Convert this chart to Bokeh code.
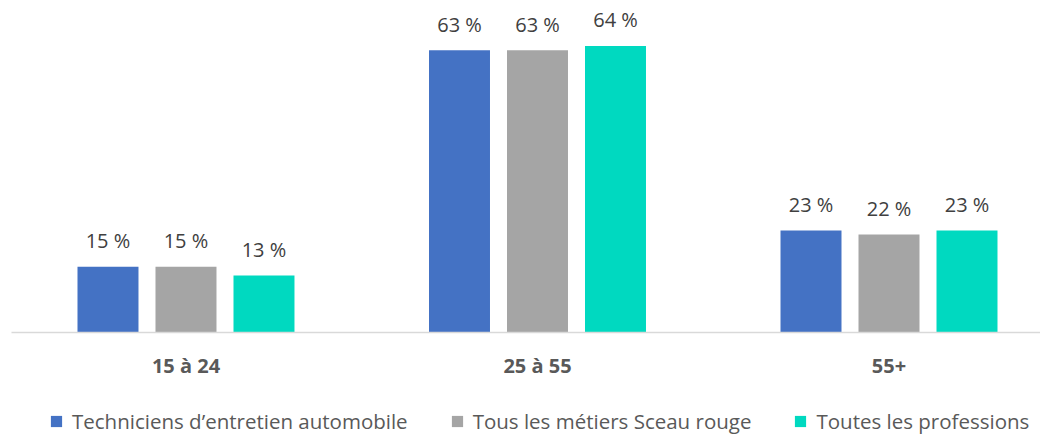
from bokeh.plotting import figure
from bokeh.layouts import column
from bokeh.models import ColumnDataSource, Range1d, FixedTicker, Legend, LegendItem
from bokeh.core.properties import value
from bokeh.embed import file_html
from bokeh.resources import INLINE

categories = ["15 à 24", "25 à 55", "55+"]
series_names = ["Techniciens d’entretien automobile", "Tous les métiers Sceau rouge", "Toutes les professions"]
techniciens = [14.8, 63.4, 22.9]
sceau_rouge = [14.8, 63.4, 22.0]
toutes = [12.8, 64.4, 22.9]
colors = ["#4472C4", "#A5A5A5", "#00D9C0"]

series_values = [techniciens, sceau_rouge, toutes]
offsets = [-0.2219, 0.0, 0.2219]
bar_width = 0.1735

p = figure(width=1040, height=395, output_backend="svg", toolbar_location=None,
           x_range=Range1d(-0.4964, 2.431), y_range=Range1d(0, 72.8))
p.min_border_left = 11
p.min_border_right = 0
p.min_border_top = 8
p.min_border_bottom = 63
p.outline_line_color = None
p.xgrid.visible = False
p.ygrid.visible = False
p.yaxis.visible = False
p.background_fill_color = "white"
p.border_fill_color = "white"

for name, vals, off, col in zip(series_names, series_values, offsets, colors):
    xs = [i + off for i in range(len(categories))]
    src = ColumnDataSource(dict(x=xs, top=vals, label=[f"{round(v)} %" for v in vals]))
    p.vbar(x="x", top="top", width=bar_width, bottom=0, source=src,
           fill_color=col, line_color=None)
    p.text(x="x", y="top", text="label", source=src, text_align="center",
           text_baseline="alphabetic", y_offset=-26, text_font=value("Open Sans"),
           text_font_size="20px", text_color="#404040")

ax = p.xaxis[0]
ax.ticker = FixedTicker(ticks=[0, 1, 2])
ax.major_label_overrides = {0: categories[0], 1: categories[1], 2: categories[2]}
ax.major_tick_line_color = None
ax.minor_tick_line_color = None
ax.axis_line_color = "#D9D9D9"
ax.axis_line_width = 1.5
ax.major_label_standoff = 13
ax.major_label_text_font = "Open Sans"
ax.major_label_text_font_style = "bold"
ax.major_label_text_font_size = "20px"
ax.major_label_text_color = "#595959"

# legend strip
q = figure(width=1040, height=40, output_backend="svg", toolbar_location=None,
           x_range=Range1d(0, 1), y_range=Range1d(0, 1))
q.min_border_left = 0
q.min_border_right = 0
q.min_border_top = 0
q.min_border_bottom = 0
q.outline_line_color = None
q.xgrid.visible = False
q.ygrid.visible = False
q.xaxis.visible = False
q.yaxis.visible = False
q.border_fill_color = "white"

items = []
for name, col in zip(series_names, colors):
    # hidden placeholder renderer (outside the visible range) used only for the legend swatch
    r = q.vbar(x=[-10], top=[0], width=0.1, fill_color=col, line_color=None)
    items.append(LegendItem(label=name, renderers=[r]))

legend = Legend(items=items, orientation="horizontal", location=(38, 0),
                glyph_width=14, glyph_height=14, label_standoff=9, spacing=42,
                label_text_font="Open Sans", label_text_font_size="20.5px",
                label_text_color="#595959", border_line_color=None,
                background_fill_alpha=0, padding=0, margin=0)
q.add_layout(legend, "center")

layout = column(p, q, spacing=0)
html = file_html(layout, INLINE)
open("out.html", "w").write(html)
